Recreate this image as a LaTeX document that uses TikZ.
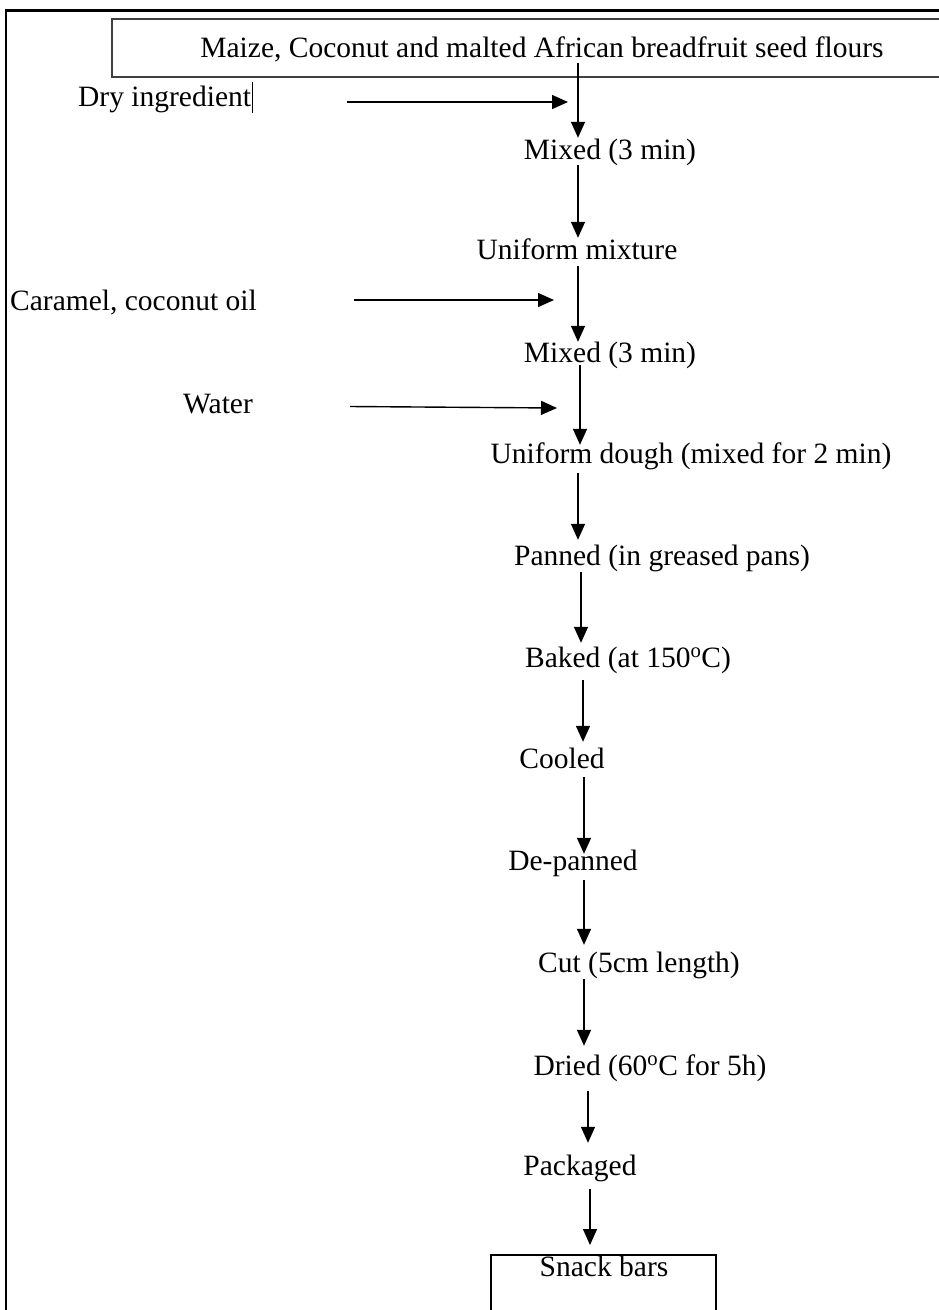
\documentclass[tikz,border=0pt]{standalone}
\usepackage{fontspec}
\setmainfont{Liberation Serif}
\usetikzlibrary{arrows.meta,calc}
\begin{document}
\begin{tikzpicture}[x=1pt,y=-1pt,
  lbl/.style={inner sep=0pt, text height=20pt, text depth=7pt, font=\fontsize{29.5}{35}\selectfont},
  arr/.style={line width=1.4pt, -{Triangle[length=16pt,width=14pt]}},
  boxline/.style={draw=black!75, line width=1.6pt},
  frame/.style={draw=black}]
\useasboundingbox (0,0) rectangle (939,1310);
\clip (0,0) rectangle (939,1310);
% outer frame
\draw[frame, line width=2pt] (6,9) -- (6,1320);
\draw[frame, line width=3pt] (5,10) -- (1000,10);
% top box
\node[boxline, inner sep=0pt, minimum width=1000pt, minimum height=58pt, anchor=north west] (src) at (111,18) {};
\node[lbl, anchor=base] (srct) at (542,57) {Maize, Coconut and malted African breadfruit seed flours};
% left inputs
\node[lbl, anchor=base west] (dry) at (78,106) {Dry ingredient};
\node[lbl, anchor=base west] (car) at (10,310) {Caramel, coconut oil};
\node[lbl, anchor=base west] (wat) at (183,413) {Water};
\draw[line width=1pt] ($(dry.east)+(1,-17.5)$) -- ($(dry.east)+(1,13.5)$);
% main column
\node[lbl, anchor=base] (m1) at (610,159) {Mixed (3 min)};
\node[lbl, anchor=base] (um) at (577,259) {Uniform mixture};
\node[lbl, anchor=base] (m2) at (610,362) {Mixed (3 min)};
\node[lbl, anchor=base] (ud) at (691,463) {Uniform dough (mixed for 2 min)};
\node[lbl, anchor=base] (pn) at (662,565) {Panned (in greased pans)};
\node[lbl, anchor=base] (bk) at (628,667) {Baked (at 150\textsuperscript{o}C)};
\node[lbl, anchor=base] (cl) at (562,768) {Cooled};
\node[lbl, anchor=base] (dp) at (573,870) {De-panned};
\node[lbl, anchor=base] (ct) at (639,972) {Cut (5cm length)};
\node[lbl, anchor=base] (dr) at (650,1075) {Dried (60\textsuperscript{o}C for 5h)};
\node[lbl, anchor=base] (pk) at (580,1175) {Packaged};
\node[draw=black, line width=1.5pt, inner sep=0pt, minimum width=225pt, minimum height=90pt, anchor=north west] (sb) at (490,1254) {};
\node[lbl, anchor=base] (sbt) at (604,1276) {Snack bars};
% column x positions
\coordinate (xa) at (578,0);
\coordinate (xb) at (580,0);
\coordinate (xc) at (581,0);
\coordinate (xd) at (583,0);
\coordinate (xe) at (584,0);
\coordinate (xf) at (588,0);
\coordinate (xg) at (590,0);
% vertical arrows
\draw[arr] ($(src.south -| xa)+(0,-15)$) -- ($(m1.north -| xa)+(0,-1)$);
\draw[arr] ($(m1.south -| xa)+(0,-1)$) -- ($(um.north -| xa)+(0,-1)$);
\draw[arr] ($(um.south -| xa)+(0,0)$) -- ($(m2.north -| xa)+(0,0)$);
\draw[arr] ($(m2.south -| xb)+(0,-4)$) -- ($(ud.north -| xb)+(0,2)$);
\draw[arr] ($(ud.south -| xa)+(0,3)$) -- ($(pn.north -| xa)+(0,-5)$);
\draw[arr] ($(pn.south -| xc)+(0,0)$) -- ($(bk.north -| xc)+(0,-4)$);
\draw[arr] ($(bk.south -| xd)+(0,6)$) -- ($(cl.north -| xd)+(0,-6)$);
\draw[arr] ($(cl.south -| xe)+(0,2)$) -- ($(dp.north -| xe)+(0,4)$);
\draw[arr] ($(dp.south -| xe)+(0,3)$) -- ($(ct.north -| xe)+(0,-7)$);
\draw[arr] ($(ct.south -| xe)+(0,0)$) -- ($(dr.north -| xe)+(0,-9)$);
\draw[arr] ($(dr.south -| xf)+(0,9)$) -- ($(pk.north -| xf)+(0,-12)$);
\draw[arr] ($(pk.south -| xg)+(0,7)$) -- ($(sb.north -| xg)+(0,-9)$);
% horizontal arrows
\coordinate (e1) at (568,102);
\coordinate (e2) at (554,300);
\coordinate (e3) at (557,408);
\draw[arr] ($(dry.east)+(96,2.5)$) -- (e1);
\draw[arr] ($(car.east)+(97,-3.5)$) -- (e2);
\draw[arr] ($(wat.east)+(97,0)$) -- (e3);
\end{tikzpicture}
\end{document}
